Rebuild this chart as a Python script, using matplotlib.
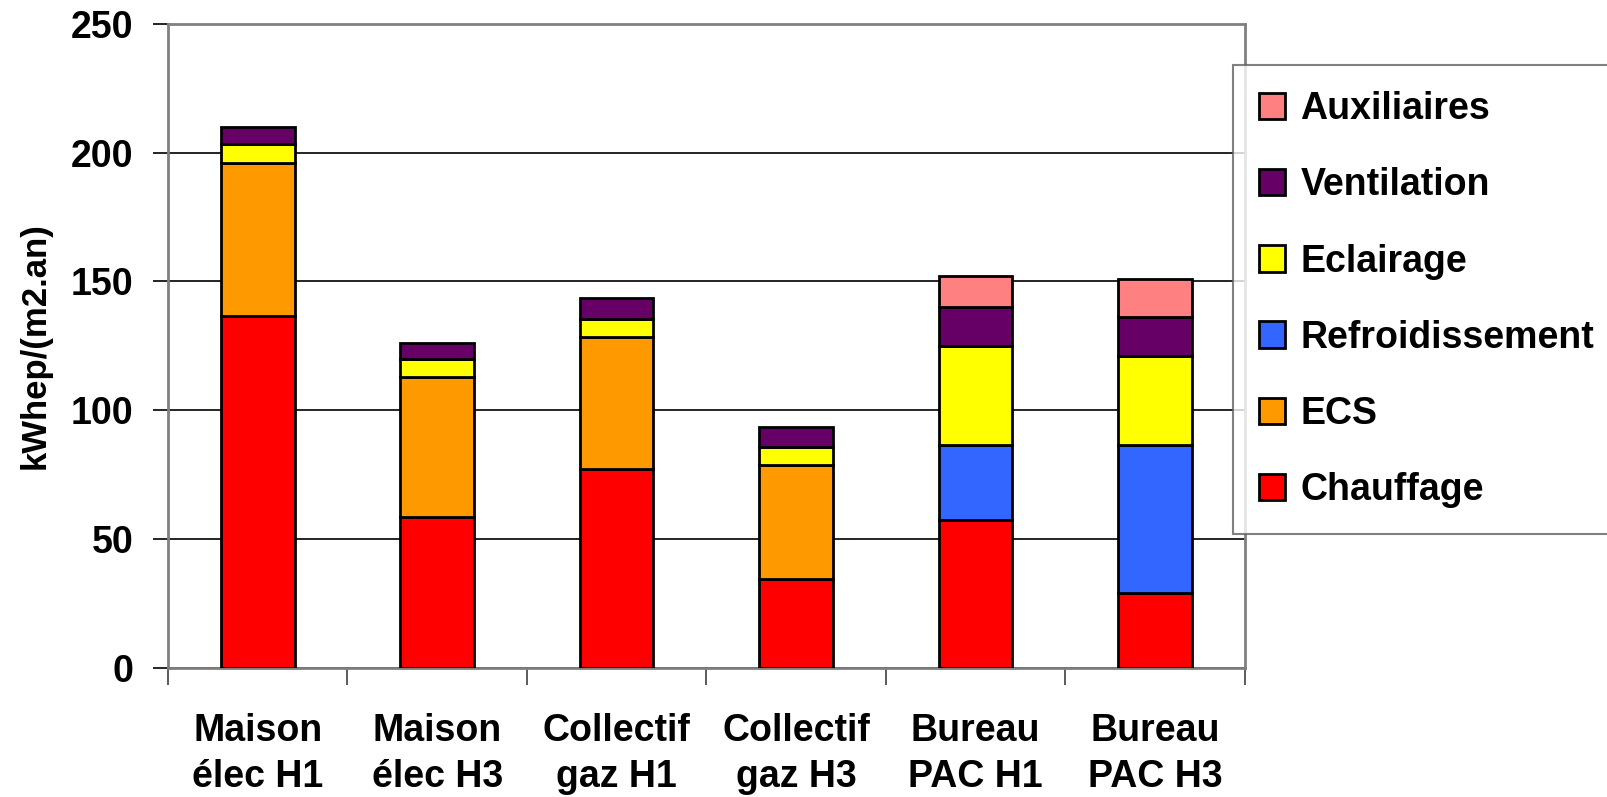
import numpy as np
import matplotlib
matplotlib.use("Agg")
import matplotlib.pyplot as plt

plt.rcParams['font.family'] = ['Liberation Sans', 'DejaVu Sans']
plt.rcParams['font.weight'] = 'bold'

# building types (two-line tick labels)
categories = ["Maison\nélec H1", "Maison\nélec H3", "Collectif\ngaz H1",
              "Collectif\ngaz H3", "Bureau\nPAC H1", "Bureau\nPAC H3"]

# consumption by end use, kWhep/(m2.an)
chauffage = [136.5, 58.5, 77.0, 34.5, 57.5, 29.0]
ecs = [59.5, 54.5, 51.5, 44.0, 0.0, 0.0]
refroidissement = [0.0, 0.0, 0.0, 0.0, 29.0, 57.5]
eclairage = [7.5, 7.0, 7.0, 7.0, 38.5, 34.5]
ventilation = [6.5, 6.0, 8.0, 8.0, 15.0, 15.0]
auxiliaires = [0.0, 0.0, 0.0, 0.0, 12.0, 15.0]

series = [
    ("Chauffage", chauffage, "#FF0000"),
    ("ECS", ecs, "#FF9900"),
    ("Refroidissement", refroidissement, "#3366FF"),
    ("Eclairage", eclairage, "#FFFF00"),
    ("Ventilation", ventilation, "#660066"),
    ("Auxiliaires", auxiliaires, "#FF8080"),
]

fig = plt.figure(figsize=(16.08, 7.97), dpi=100)
ax = fig.add_axes([0.1045, 0.1624, 0.6695, 0.8076])

x = np.arange(len(categories))
bottom = np.zeros(len(categories))
handles = []
for name, vals, color in series:
    vals = np.asarray(vals, dtype=float)
    mask = vals > 0
    bars = ax.bar(x[mask], vals[mask], width=0.41, bottom=bottom[mask],
                  color=color, edgecolor="black", linewidth=2, zorder=3,
                  label=name)
    handles.append(bars)
    bottom += vals

ax.set_xlim(-0.5, len(categories) - 0.5)
ax.set_ylim(0, 250)
ax.set_yticks([0, 50, 100, 150, 200, 250])
ax.yaxis.grid(True, color="black", linewidth=1.2, zorder=0)

for side in ["left", "right", "top", "bottom"]:
    ax.spines[side].set_color("#808080")
    ax.spines[side].set_linewidth(2)

# category ticks sit between the bars
ax.set_xticks(np.arange(len(categories) + 1) - 0.5)
ax.set_xticklabels([])
ax.set_xticks(x, minor=True)
ax.set_xticklabels(categories, minor=True, fontsize=27, fontweight="bold",
                   linespacing=1.35)
ax.tick_params(axis="x", which="major", direction="out", length=12,
               width=1.2, color="#404040")
ax.tick_params(axis="x", which="minor", length=0, pad=33)
ax.tick_params(axis="y", direction="out", length=11, width=1.2,
               labelsize=27, pad=14)
for lbl in ax.get_yticklabels():
    lbl.set_fontweight("bold")

ax.set_ylabel("kWhep/(m2.an)", fontsize=25, fontweight="bold")
ax.yaxis.set_label_coords(-0.108, 0.5)

leg = fig.legend(handles=handles[::-1], loc="upper left",
                 bbox_to_anchor=(1233 / 1608, 1 - 65 / 797),
                 borderaxespad=0,
                 prop={"size": 27, "weight": "bold"},
                 frameon=True, fancybox=False, edgecolor="#606060",
                 handlelength=0.7, handleheight=0.7, handletextpad=0.4,
                 labelspacing=1.07, borderpad=0.7)
leg.get_frame().set_linewidth(1.5)

fig.savefig("out.png", dpi=100)
